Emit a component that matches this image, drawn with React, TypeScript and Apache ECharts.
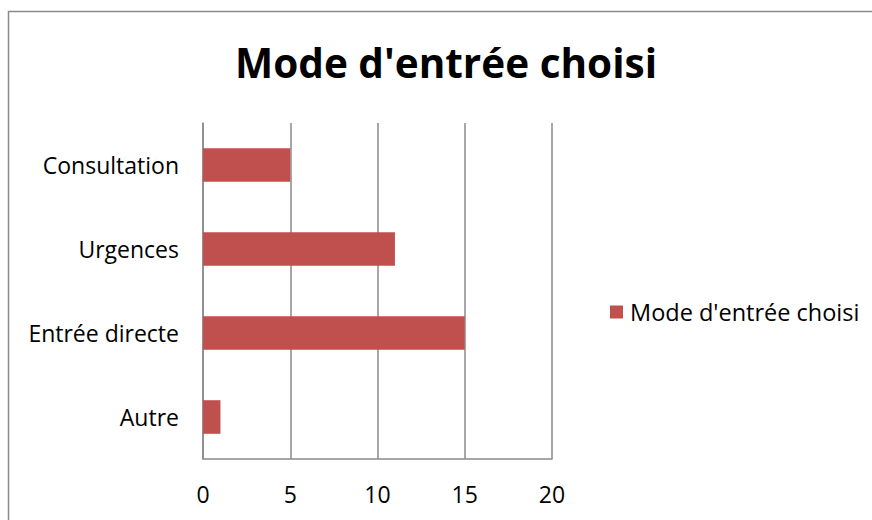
import React, { useEffect, useRef } from "react";
import * as echarts from "echarts";

const categories = ["Autre", "Entrée directe", "Urgences", "Consultation"];
const values = [1, 15, 11, 5];
const seriesName = "Mode d'entrée choisi";
const titleText = "Mode d'entrée choisi";

export default function App() {
  const ref = useRef<HTMLDivElement>(null);
  useEffect(() => {
    const chart = echarts.init(ref.current!, null, { renderer: "svg" });
    const font = "'Open Sans', sans-serif";
    chart.setOption({
      animation: false,
      backgroundColor: "#ffffff",
      textStyle: { fontFamily: font },
      title: {
        text: titleText,
        left: 441,
        top: 37,
        textAlign: "center",
        textStyle: { fontFamily: font, fontSize: 40.5, fontWeight: "bold", color: "#000" },
      },
      graphic: [
        {
          type: "rect",
          shape: { x: 8.5, y: 11.5, width: 900, height: 600 },
          style: { fill: "none", stroke: "#8a8a8a", lineWidth: 1.5 },
          silent: true,
          z: -1,
        },
      ],
      legend: {
        left: 605,
        top: 295,
        itemWidth: 13,
        itemHeight: 13,
        itemGap: 8,
        icon: "rect",
        textStyle: { fontFamily: font, fontSize: 23.5, color: "#000", padding: [0, 0, 0, 2] },
        data: [seriesName],
      },
      grid: { left: 203, right: 320, top: 123, bottom: 61, containLabel: false },
      xAxis: {
        type: "value",
        min: 0,
        max: 20,
        interval: 5,
        axisLine: { show: true, lineStyle: { color: "#8a8a8a", width: 1.5 } },
        axisTick: { show: false },
        splitLine: { show: true, lineStyle: { color: "#8a8a8a", width: 1.5 } },
        axisLabel: { fontFamily: font, fontSize: 23, color: "#000", margin: 23 },
      },
      yAxis: {
        type: "category",
        data: categories,
        axisLine: { show: true, lineStyle: { color: "#8a8a8a", width: 1.5 } },
        axisTick: { show: false },
        axisLabel: { fontFamily: font, fontSize: 23, color: "#000", margin: 24 },
      },
      series: [
        {
          name: seriesName,
          type: "bar",
          data: values,
          barCategoryGap: "60%",
          itemStyle: { color: "#C0504D" },
        },
      ],
    });
    return () => chart.dispose();
  }, []);
  return (
    <div
      ref={ref}
      style={{ position: "fixed", left: 0, top: 0, width: 872, height: 520 }}
    />
  );
}
